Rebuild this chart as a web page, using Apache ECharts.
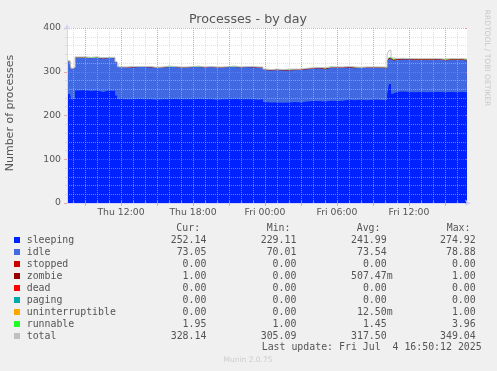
<!DOCTYPE html>
<html><head><meta charset="utf-8">
<script src="https://cdn.jsdelivr.net/npm/echarts@6/dist/echarts.min.js"></script>
<style>html,body{margin:0;padding:0;background:#f0f0f0}#c{width:497px;height:371px}</style>
</head><body><div id="c"></div>
<script>
// x values: hours since Thu 00:00
const times = [7.5,7.75,7.83,8.0,8.17,8.5,9.0,9.5,10.0,10.5,11.0,11.33,11.5,11.67,11.83,12.5,13,13.5,14,14.5,15,15.5,16,16.5,17,17.5,18,18.5,19,19.5,20,20.5,21,21.5,22,22.5,23,23.5,23.83,24.0,24.5,25,25.5,26,26.5,27,27.5,28,28.5,29,29.5,30,30.5,31,31.5,32,32.5,33,33.5,34.0,34.17,34.33,34.5,34.67,35,35.5,36,36.5,37,37.5,38,38.5,39,39.5,40,40.5,40.83];
const sleeping = [249,249,237,238,257,258,256,257,254,257,256,257,246,238,237,237,238,237,237,236,237,237,238,237,237,237,238,237,237,236,237,237,238,237,237,237,236,237,231,230,230,229,230,231,230,232,233,233,232,234,233,234,236,235,236,235,236,236,235,236,247,272,250,254,255,254,253,254,253,254,254,253,254,253,254,253,252.14];
const idle = [74,74,70,71,75,74,75,75,76,75,75,74,75,73,73,73,73,74,73,73,73,74,73,72,73,74,73,73,74,73,73,74,73,73,74,73,74,73,73,73,74,74,73,73,74,74,74,75,74,75,76,75,74,73,73,74,73,73,73,72,76,58,76,73,73,74,74,73,74,73,74,73,73,74,73,73,73.05];
const stopped = [0,0,0,0,0,0,0,0,0,0,0,0,0,0,0,0,0,0,0,0,0,0,0,0,0,0,0,0,0,0,0,0,0,0,0,0,0,0,0,0,0,0,0,0,0,0,0,0,0,0,0,0,0,0,0,0,0,0,0,0,0,0,0,0,0,0,0,0,0,0,0,0,0,0,0,0,0];
const zombie = [0,0,0,0,0,0,0,0,0,0,0,0,0,0,0,0,0,0,0,0,0,0,0,0,0,0,0,0,0,0,0,0,0,0,0,0,0,0,1,1,1,1,1,1,1,1,1,1,1,1,1,1,1,1,0,1,1,1,1,1,1,1,1,1,1,1,1,1,1,1,1,1,1,1,1,1,1];
const dead = [0,0,0,0,0,0,0,0,0,0,0,0,0,0,0,0,0,0,0,0,0,0,0,0,0,0,0,0,0,0,0,0,0,0,0,0,0,0,0,0,0,0,0,0,0,0,0,0,0,0,0,0,0,0,0,0,0,0,0,0,0,0,0,0,0,0,0,0,0,0,0,0,0,0,0,0,0];
const paging = [0,0,0,0,0,0,0,0,0,0,0,0,0,0,0,0,0,0,0,0,0,0,0,0,0,0,0,0,0,0,0,0,0,0,0,0,0,0,0,0,0,0,0,0,0,0,0,0,0,0,0,0,0,0,0,0,0,0,0,0,0,0,0,0,0,0,0,0,0,0,0,0,0,0,0,0,0];
const uninterruptible = [0,0,0,0,0,0,0,0,0,0,0,0,0,0,0,0,0,0,0,0,0,0,0,0,0,0,0,0,0,0,0,0,0,0,0,0,0,0,0,0,0,0,0,0,0,0,0,0,0,1,0,0,0,0,0,0,0,0,0,0,0,0,0,0,0,0,0,0,0,0,0,0,0,0,0,0,0];
const runnable = [2,2,1,1,2,2,2,2,2,1,2,2,2,1,1,2,1,1,2,1,1,2,1,2,1,1,2,1,1,2,1,1,2,1,1,2,1,1,1,1,1,1,2,1,1,1,1,1,2,1,1,1,1,2,1,1,1,1,2,1,2,2,3,2,2,1,2,2,2,2,1,2,2,2,2,2,1.95];
const total = [325,325,308,310,334,334,333,334,332,333,333,333,323,320,311,312,312,312,312,310,311,313,312,311,311,312,313,311,312,311,311,312,313,311,312,312,311,311,306,305,306,305,306,306,306,308,309,310,309,311,311,311,312,311,310,311,311,311,311,310,340,349,332,330,331,330,330,330,330,330,330,329,330,330,330,329,328.14];

const seriesNames = ['sleeping','idle','stopped','zombie','dead','paging','uninterruptible','runnable','total'];
const seriesColors = ['#0022ff','#4169e1','#cc0000','#990000','#ff0000','#00aaaa','#ffa500','#22ff22','#c0c0c0'];
const curVals = ['252.14','73.05','0.00','1.00','0.00','0.00','0.00','1.95','328.14'];
const minVals = ['229.11','70.01','0.00','0.00','0.00','0.00','0.00','1.00','305.09'];
const avgVals = ['241.99','73.54','0.00','507.47m','0.00','0.00','12.50m','1.45','317.50'];
const maxVals = ['274.92','78.88','0.00','1.00','0.00','0.00','1.00','3.96','349.04'];

const majorTicks = [9,12,15,18,21,24,27,30,33,36,39];
const minorTicks = [8,9,10,11,12,13,14,15,16,17,18,19,20,21,22,23,24,25,26,27,28,29,30,31,32,33,34,35,36,37,38,39,40];
const labelTicks = [12,18,24,30,36];
const labelText = {12:'Thu 12:00',18:'Thu 18:00',24:'Fri 00:00',30:'Fri 06:00',36:'Fri 12:00'};

const stackData = [sleeping, idle, stopped, zombie, dead, paging, uninterruptible, runnable];
const FONT = 'DejaVu Sans';
const TXT = '#555555';
const gridCol = 'rgba(200,200,200,0.55)';
const mgridCol = 'rgba(230,110,110,0.55)';
const axisCol = '#CFD6F8';

// cumulative (stacked) tops, built from the component arrays
const cum = [];
stackData.forEach((arr, k) => {
  cum.push(times.map((t, i) => [t, arr[i] + (k ? cum[k-1][i][1] : 0)]));
});
const series = [];
for (let k = stackData.length - 1; k >= 0; k--) {
  series.push({
    name: seriesNames[k], type: 'line', step: 'end', symbol: 'none',
    data: cum[k], lineStyle: {width: 0}, areaStyle: {color: seriesColors[k], opacity: 1, origin: 'start'},
    itemStyle: {color: seriesColors[k]}, z: 2, animation: false
  });
}
series.push({
  name: 'total', type: 'line', step: 'end', symbol: 'none',
  data: times.map((t, i) => [t, total[i]]),
  lineStyle: {width: 1, color: '#c0c0c0'}, itemStyle: {color: '#c0c0c0'}, z: 3, animation: false
});

// legend block
const rowY0 = 240, rowH = 12;
const colCur = 170.7, colMin = 260.7, colAvg = 351, colMax = 440;
function fmt(v){ const m = v.endsWith('m'); const n = m ? v.slice(0,-1) : v; return n.padStart(6,' ') + (m ? 'm' : ''); }
const g = [];
const tstyle = (txt, x, y) => ({type:'text', x, y, style:{text: txt, fill: TXT, font: '9.9px "DejaVu Sans Mono"', verticalAlign:'middle', align:'left'}, silent:true});
g.push(tstyle('Cur:', 176.3, 228.5), tstyle('Min:', 266.7, 228.5), tstyle('Avg:', 356.7, 228.5), tstyle('Max:', 446.7, 228.5));
seriesNames.forEach((nm, i) => {
  const y = rowY0 + i*rowH;
  g.push({type:'rect', shape:{x:14, y:y-3, width:6, height:6}, style:{fill: seriesColors[i]}, silent:true});
  g.push(tstyle(nm, 26.7, y));
  g.push(tstyle(fmt(curVals[i]), colCur, y));
  g.push(tstyle(fmt(minVals[i]), colMin, y));
  g.push(tstyle(fmt(avgVals[i]), colAvg, y));
  g.push(tstyle(fmt(maxVals[i]), colMax, y));
});
g.push(tstyle('Last update: Fri Jul  4 16:50:12 2025', 261.7, 347.5));
g.push({type:'text', x:248, y:19.5, style:{text:'Processes - by day', fill:TXT, font:'12.7px "DejaVu Sans"', align:'center', verticalAlign:'middle'}, silent:true});
g.push({type:'text', x:10, y:113, rotation: Math.PI/2, style:{text:'Number of processes', fill:TXT, font:'11px "DejaVu Sans"', align:'center', verticalAlign:'middle'}, silent:true});
g.push({type:'text', x:487, y:58, rotation: -Math.PI/2, style:{text:'RRDTOOL / TOBI OETIKER', fill:'#c8c8c8', font:'7.5px "DejaVu Sans"', align:'center', verticalAlign:'middle'}, silent:true});
g.push({type:'text', x:248, y:360.5, style:{text:'Munin 2.0.75', fill:'#cccccc', font:'7.5px "DejaVu Sans"', align:'center', verticalAlign:'middle'}, silent:true});

const chart = echarts.init(document.getElementById('c'), null, {renderer:'canvas'});
chart.setOption({
  animation: false,
  backgroundColor: '#f0f0f0',
  grid: {left: 67, top: 28, width: 400, height: 175, show: true, backgroundColor: '#ffffff', borderWidth: 0},
  xAxis: [
    {type:'value', min: 7.5, max: 40.8333, position:'bottom', z: 5,
     axisLine: {show: true, onZero:false, lineStyle:{color: axisCol, width:1}, symbol:['none','arrow'], symbolSize:[5,6], symbolOffset:[0,4]},
     axisTick: {show:true, customValues: majorTicks, length: 3, lineStyle:{color: mgridCol}},
     axisLabel: {show:true, customValues: labelTicks, formatter: v => labelText[Math.round(v)] || '', color: TXT, fontSize: 9.3, fontFamily: FONT, margin: 5},
     splitLine: {show:true, lineStyle:{color: mgridCol, type:[1,1], width:1}}},
    {type:'value', min: 7.5, max: 40.8333, position:'bottom', z: 4,
     axisLine: {show:false, onZero:false},
     axisTick: {show:true, inside:true, customValues: minorTicks, length: 2, lineStyle:{color: gridCol}},
     axisLabel: {show:false},
     splitLine: {show:true, lineStyle:{color: gridCol, type:[1,1], width:1}}}
  ],
  yAxis: [
    {type:'value', min:0, max:400, interval:100, z: 5,
     axisLine: {show:true, lineStyle:{color: axisCol, width:1}, symbol:['none','arrow'], symbolSize:[5,6], symbolOffset:[0,4]},
     axisTick: {show:true, length:3, lineStyle:{color: mgridCol}},
     minorTick: {show:true, splitNumber:5, length:2, lineStyle:{color: gridCol}},
     axisLabel: {color: TXT, fontSize: 9.3, fontFamily: FONT, margin: 6},
     splitLine: {show:true, lineStyle:{color: mgridCol, type:[1,1], width:1}},
     minorSplitLine: {show:true, lineStyle:{color: gridCol, type:[1,1], width:1}}},
    {type:'value', min:0, max:400, interval:100, position:'right', z: 5,
     axisLine: {show:false}, axisTick:{show:true, inside:true, length:2, lineStyle:{color: mgridCol}},
     axisLabel:{show:false}, splitLine:{show:false}}
  ],
  series: series,
  graphic: g
});
</script></body></html>
